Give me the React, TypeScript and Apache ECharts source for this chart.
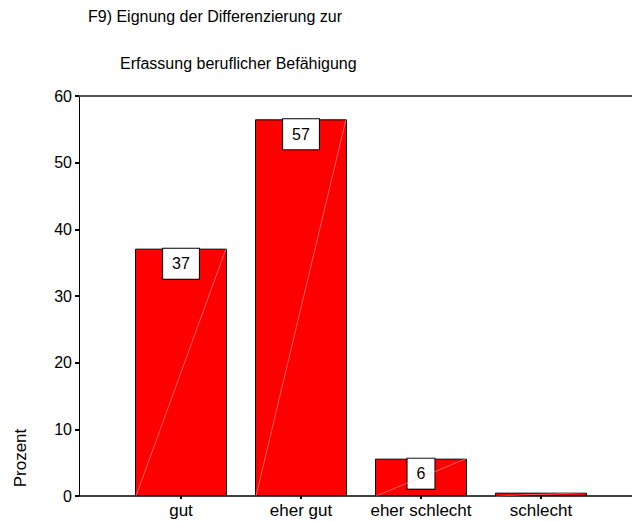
import React, { useEffect, useRef } from "react";
import * as echarts from "echarts";

const categories = ["gut", "eher gut", "eher schlecht", "schlecht"];
const values = [37.1, 56.5, 5.6, 0.5];
const labelTexts = ["37", "57", "6", ""];
const titleLine1 = "F9) Eignung der Differenzierung zur";
const titleLine2 = "Erfassung beruflicher Befähigung";
const yName = "Prozent";
const yMin = 0;
const yMax = 60;
const yInterval = 10;

const FONT = "'Liberation Sans', Arial, Helvetica, sans-serif";
const BAR_W = 92;

export default function App() {
  const ref = useRef<HTMLDivElement>(null);
  useEffect(() => {
    document.body.style.margin = "0";
    if (!ref.current) return;
    const chart = echarts.init(ref.current, undefined, { renderer: "svg" });
    const option: any = {
      animation: false,
      backgroundColor: "#fff",
      textStyle: { fontFamily: FONT },
      grid: [
        { left: 121, right: 31, top: 96, bottom: 25 },
        { left: 79, right: 0, top: 96, bottom: 25 },
      ],
      xAxis: [
        {
          gridIndex: 0,
          type: "category",
          data: categories,
          axisLine: { show: false },
          axisTick: {
            show: true,
            alignWithLabel: true,
            interval: 0,
            length: 3,
            lineStyle: { color: "#000", width: 2 },
          },
          axisLabel: { interval: 0, fontSize: 17, color: "#000", margin: 6, fontFamily: FONT },
          splitLine: { show: false },
        },
        {
          gridIndex: 1,
          type: "value",
          min: 0,
          max: 1,
          axisLine: { show: true, onZero: false, lineStyle: { color: "#000", width: 1.5 } },
          axisTick: { show: false },
          axisLabel: { show: false },
          splitLine: { show: false },
        },
        {
          gridIndex: 1,
          type: "value",
          position: "top",
          min: 0,
          max: 1,
          axisLine: { show: true, onZero: false, lineStyle: { color: "#555", width: 2 } },
          axisTick: { show: false },
          axisLabel: { show: false },
          splitLine: { show: false },
        },
      ],
      yAxis: [
        { gridIndex: 0, type: "value", min: yMin, max: yMax, interval: yInterval, show: false },
        {
          gridIndex: 1,
          type: "value",
          min: yMin,
          max: yMax,
          interval: yInterval,
          axisLine: { show: true, onZero: false, lineStyle: { color: "#000", width: 1 } },
          axisTick: { show: true, length: 4, lineStyle: { color: "#000", width: 2 } },
          axisLabel: { fontSize: 16, color: "#000", margin: 7, fontFamily: FONT },
          splitLine: { show: false },
        },
      ],
      series: [
        {
          type: "bar",
          xAxisIndex: 0,
          yAxisIndex: 0,
          data: values.map((v, i) =>
            labelTexts[i] ? v : { value: v, label: { show: false } }
          ),
          barWidth: BAR_W,
          itemStyle: { color: "#ff0000", borderColor: "#000", borderWidth: 1 },
          label: {
            show: true,
            position: "insideTop",
            distance: 0,
            formatter: (p: any) => labelTexts[p.dataIndex],
            backgroundColor: "#fff",
            borderColor: "#000",
            borderWidth: 1,
            padding: [7, 9],
            fontSize: 16,
            color: "#000",
            fontFamily: FONT,
          },
          z: 2,
        },
        {
          type: "custom",
          xAxisIndex: 0,
          yAxisIndex: 0,
          data: categories.map((c, i) => [i, values[i]]),
          renderItem: (params: any, api: any) => {
            const top = api.coord([api.value(0), api.value(1)]);
            const bot = api.coord([api.value(0), 0]);
            return {
              type: "line",
              shape: {
                x1: bot[0] - BAR_W / 2 + 1,
                y1: bot[1],
                x2: top[0] + BAR_W / 2 - 1,
                y2: top[1],
              },
              style: { stroke: "rgba(255,190,190,0.85)", lineWidth: 0.6 },
            };
          },
          silent: true,
          z: 3,
        },
      ],
      graphic: [
        {
          type: "text",
          left: 88,
          top: 8,
          style: { text: titleLine1, fontSize: 16, fill: "#000", fontFamily: FONT },
        },
        {
          type: "text",
          left: 120,
          top: 55,
          style: { text: titleLine2, fontSize: 16, fill: "#000", fontFamily: FONT },
        },
        {
          type: "text",
          x: 20,
          y: 458,
          rotation: Math.PI / 2,
          style: {
            text: yName,
            fontSize: 17,
            fill: "#000",
            fontFamily: FONT,
            align: "center",
            verticalAlign: "middle",
          },
        },
      ],
    };
    chart.setOption(option);
    return () => chart.dispose();
  }, []);
  return <div ref={ref} style={{ width: 632, height: 521 }} />;
}
